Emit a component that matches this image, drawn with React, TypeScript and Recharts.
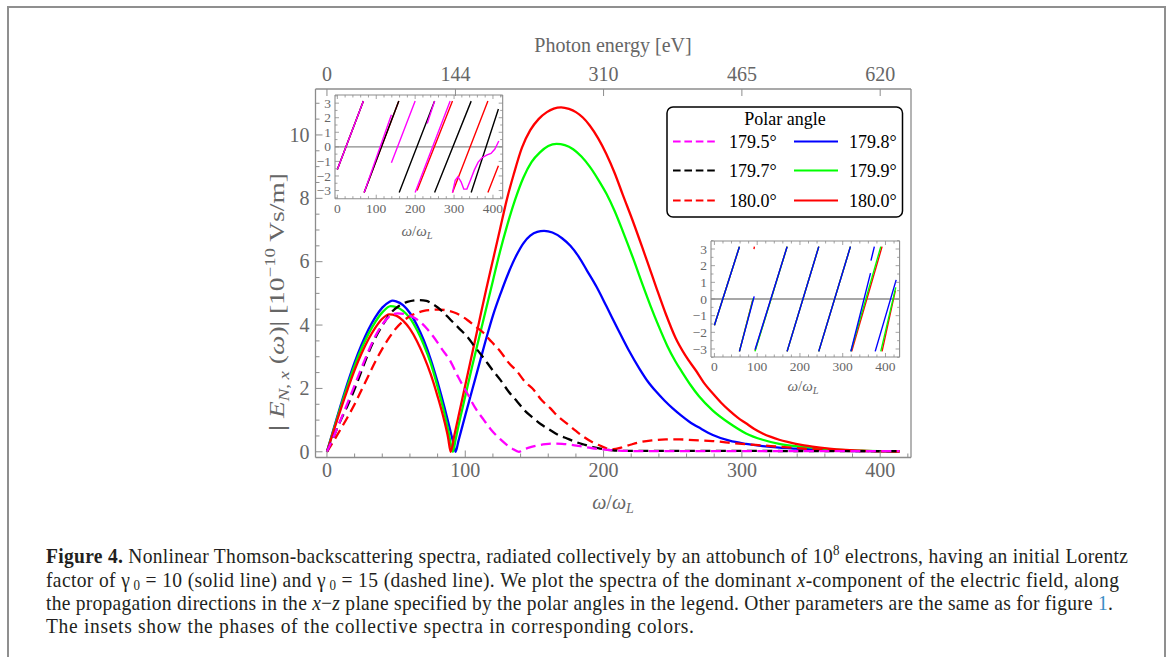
import React from 'react';
import { LineChart, Line, XAxis, YAxis, ReferenceLine, Legend } from 'recharts';

const SERIF = '"Liberation Serif", "Times New Roman", Times, serif';
const FRAME = '#8c8c8c';
const TXT_GRAY = '#666666';

// ---------------- main spectra |E_N,x(w)| (1e-10 Vs/m) ----------------
// solid (gamma0 = 10)
const wBlue = [0,5,10,15,20,25,30,35,40,45,47.5,50,55,60,65,70,75,80,85,89,91,93,95,97,100,105,110,115,120,126,131,137,142,147,152,157,163,170,176,182,188,195,202,210,218,226,232,238,244,250,256,262,270,279,291,303,315,327,339,357,375,395,414];
const eBlue = [0,0.75,1.48,2.18,2.82,3.38,3.86,4.25,4.55,4.73,4.77,4.75,4.63,4.38,4.0,3.52,2.92,2.2,1.4,0.7,0.35,0,0.33,0.66,1.15,1.95,2.75,3.55,4.3,5.05,5.62,6.2,6.58,6.82,6.94,6.97,6.92,6.74,6.5,6.16,5.72,5.2,4.6,3.9,3.22,2.62,2.22,1.9,1.62,1.37,1.15,0.95,0.74,0.53,0.35,0.25,0.18,0.13,0.1,0.06,0.03,0.02,0.01];

const wGreen = [0,5,10,15,20,25,30,35,40,46,50,55,60,65,70,75,80,85,88,91,93,95,100,105,110,115,120,125,130,136,142,148,154,160,166,172,178,184,190,196,202,208,214,221,228,234,240,246,252,257,263,269,279,291,303,315,327,339,351,363,375,390,414];
const eGreen = [0,0.72,1.43,2.1,2.72,3.26,3.72,4.1,4.4,4.6,4.57,4.45,4.22,3.85,3.38,2.8,2.05,1.2,0.62,0,0.38,0.8,1.75,2.7,3.6,4.5,5.4,6.3,7.1,7.95,8.65,9.15,9.45,9.65,9.72,9.68,9.55,9.32,9.0,8.6,8.15,7.6,6.95,6.15,5.3,4.6,3.95,3.35,2.85,2.5,2.1,1.75,1.3,0.9,0.58,0.38,0.25,0.18,0.13,0.08,0.05,0.03,0.01];

const wRedSolid = [0,5,10,15,20,25,30,35,40,45,50,55,60,65,70,75,80,85,87.5,89.5,92,95,100,105,110,115,120,125,130,135,141,147,153,159,164,169.3,175,180,185,190,196,202,208,214,221,228,234,238,245,252,259,267,273,279,285,291,297,303,309,315,321,327,333,339,345,351,363,375,390,414];
const eRedSolid = [0,0.68,1.35,1.98,2.58,3.1,3.55,3.92,4.2,4.34,4.3,4.14,3.88,3.5,3.02,2.45,1.75,0.95,0.47,0,0.5,1.1,2.1,3.1,4.1,5.1,6.05,7.0,7.95,8.75,9.6,10.15,10.5,10.72,10.83,10.87,10.82,10.72,10.55,10.3,9.9,9.4,8.8,8.1,7.3,6.45,5.7,5.2,4.35,3.6,3.05,2.55,2.15,1.84,1.55,1.3,1.08,0.9,0.72,0.58,0.47,0.38,0.31,0.25,0.2,0.16,0.1,0.06,0.03,0.01];

// dashed (gamma0 = 15)
const wMagenta = [0,5,10,15,20,25,30,35,40,46,51,56,61,66,72,77,83,89.5,95,101.5,107,113.5,119,125.5,130,134,138.8,142,146,152,158,164,170,177,184,191,198,205,215,230,260,300,350,414];
const eMagenta = [0,0.5,1.02,1.55,2.1,2.65,3.18,3.65,4.02,4.3,4.37,4.35,4.28,4.15,3.9,3.63,3.25,2.84,2.35,1.84,1.4,1.0,0.68,0.39,0.22,0.1,0,0.07,0.13,0.2,0.24,0.26,0.25,0.22,0.17,0.12,0.08,0.05,0.03,0.02,0.02,0.02,0.02,0.02];

const wBlack = [0,5,10,15,20,25,30,35,40,46,52,58,66.6,72,77,83,89.5,95,101.5,107,113.5,119,125.5,131,137.6,143,149.6,155,161.6,167,173.6,180,185.7,192,197.7,203,208,215,230,260,300,350,414];
const eBlack = [0,0.5,1.0,1.47,1.98,2.55,3.12,3.6,3.98,4.37,4.6,4.73,4.79,4.76,4.65,4.45,4.16,3.92,3.63,3.31,2.95,2.62,2.26,1.92,1.58,1.3,1.05,0.86,0.68,0.54,0.42,0.31,0.23,0.15,0.1,0.06,0.04,0.03,0.03,0.03,0.03,0.02,0.02];

const wRedDashed = [0,5,10,15,20,25,30,35,40,45,50,55,60,65,70,76,81,87,93,101.5,107,113.5,119,125.5,131,137.6,143,149.6,155,161.6,167,173.6,180,185.7,192,197.7,202,205.5,209,214,220,227,235,245,255,265,278.7,290,302.8,315,326.8,339,351,363,375,395,414];
const eRedDashed = [0,0.35,0.72,1.1,1.5,1.95,2.4,2.85,3.25,3.6,3.9,4.12,4.28,4.38,4.45,4.48,4.49,4.46,4.38,4.16,3.97,3.74,3.47,3.16,2.83,2.53,2.22,1.95,1.64,1.37,1.12,0.89,0.66,0.47,0.3,0.19,0.11,0.07,0.09,0.15,0.23,0.31,0.36,0.39,0.39,0.37,0.34,0.29,0.24,0.2,0.16,0.12,0.08,0.05,0.03,0.02,0.02];

// ---------------- phases (insets), segments of [w, phase] ----------------
const phaseMagenta15 = [
  [[0,-1.55],[67,3.14]],
  [[69,-3.14],[139,2.2]],
  [[139,-1.1],[200,3.14]],
  [[200,-3.14],[290,3.14]],
  [[231,1.6],[250,3.14]],
  [[296,-3.14],[303,-2.3],[310,-2.05],[318,-2.4],[325,-2.9],[333,-2.9],[342,-2.3],[352,-1.6],[362,-1.05],[372,-0.75],[385,-0.55],[395,-0.45],[405,-0.15],[415,0.4]],
];
const phaseBlack15 = [
  [[0,-1.55],[67,3.14]],
  [[69,-3.14],[158,3.14]],
  [[159,-3.14],[250,3.14]],
  [[250,-3.14],[344,3.14]],
  [[344,-3.14],[414,2.6]],
];
const phaseRed15 = [
  [[0,-1.55],[67,3.14]],
  [[69,-3.14],[158,3.14]],
  [[205,-3.0],[296,3.14]],
  [[296,-3.14],[387,3.14]],
  [[387,-3.14],[414,-1.3]],
];
const phaseBlue10 = [
  [[0,-1.58],[58.5,3.14]],
  [[58.5,-3.14],[93,0.16]],
  [[95,-3.04],[170,3.14]],
  [[170,-3.14],[244,3.14]],
  [[244,-3.14],[318,3.14]],
  [[319,-3.14],[365,1.55]],
  [[366,2.3],[374,3.14]],
  [[376,-3.14],[425,1.15]],
];
const phaseGreen10 = [
  [[0,-1.58],[58.5,3.14]],
  [[58.5,-3.14],[91,0.05]],
  [[95,-3.14],[170,3.14]],
  [[170,-3.14],[244,3.14]],
  [[244,-3.14],[318,3.14]],
  [[319,-3.14],[389,3.14]],
  [[389,-3.14],[424,0.7]],
];
const phaseRed10 = [
  [[0,-1.58],[58.5,3.14]],
  [[58.5,-3.14],[89.5,-0.05]],
  [[92.5,3.0],[93.5,3.14]],
  [[95,-3.1],[170,3.14]],
  [[170,-3.14],[244,3.14]],
  [[244,-3.14],[318,3.14]],
  [[321,-3.14],[392,3.14]],
  [[392,-3.14],[423,0.5]],
];

// ---------------- ticks / labels ----------------
const mainYTicks = [0,0.5,1,1.5,2,2.5,3,3.5,4,4.5,5,5.5,6,6.5,7,7.5,8,8.5,9,9.5,10,10.5,11];
const mainYMajor = [0,2,4,6,8,10];
const mainXTicks = [0,20,40,60,80,100,120,140,160,180,200,220,240,260,280,300,320,340,360,380,400,420];
const mainXMajor = [0,100,200,300,400];
const photonTickLabels = ['0','144','310','465','620'];
const photonTickOmega = [0,92.9,200,300,400];
const insetYTicks = [-3.5,-3,-2.5,-2,-1.5,-1,-0.5,0,0.5,1,1.5,2,2.5,3,3.5];
const insetYMajor = [-3,-2,-1,0,1,2,3];
const insetXTicks = mainXTicks;
const insetXMajor = mainXMajor;

const dashedSeries = [
  { name: '179.5°', color: '#ff00ff', w: wMagenta, e: eMagenta },
  { name: '179.7°', color: '#000000', w: wBlack, e: eBlack },
  { name: '180.0°', color: '#ff0000', w: wRedDashed, e: eRedDashed },
];
const solidSeries = [
  { name: '179.8°', color: '#0000ff', w: wBlue, e: eBlue },
  { name: '179.9°', color: '#00ff00', w: wGreen, e: eGreen },
  { name: '180.0°', color: '#ff0000', w: wRedSolid, e: eRedSolid },
];

const toPts = (ws: number[], es: number[]) => ws.map((w, i) => ({ w, v: es[i] }));
const segPts = (segs: number[][][]) => {
  const out: { w: number; p: number | null }[] = [];
  segs.forEach((s) => {
    s.forEach(([w, p]) => out.push({ w, p }));
    out.push({ w: s[s.length - 1][0] + 0.01, p: null });
  });
  return out;
};

const isIn = (arr: number[], v: number) => arr.some((m) => Math.abs(m - v) < 1e-6);

type Side = 'left' | 'right' | 'top' | 'bottom';
function makeTick(side: Side, o: { majors: number[]; label?: (v: number) => string | null; majorLen: number; minorLen: number; fontSize: number; gap: number; color: string; lineColor: string; lw: number }) {
  return (props: any) => {
    const { x, y, payload } = props;
    const v = payload.value as number;
    const major = isIn(o.majors, v);
    const len = major ? o.majorLen : o.minorLen;
    const lab = major && o.label ? o.label(v) : null;
    let x2 = x, y2 = y, tx = x, ty = y, anchor: any = 'middle';
    if (side === 'left') { x2 = x + len; tx = x - o.gap; ty = y + o.fontSize * 0.34; anchor = 'end'; }
    if (side === 'right') { x2 = x - len; }
    if (side === 'bottom') { y2 = y - len; ty = y + o.gap + o.fontSize * 0.68; }
    if (side === 'top') { y2 = y + len; ty = y - o.gap; }
    return (
      <g>
        <line x1={x} y1={y} x2={x2} y2={y2} stroke={o.lineColor} strokeWidth={o.lw} />
        {lab != null && (
          <text x={tx} y={ty} textAnchor={anchor} fontFamily={SERIF} fontSize={o.fontSize} fill={o.color}>{lab}</text>
        )}
      </g>
    );
  };
}

// ---------------- layout ----------------
const PAGE_W = 1171, PAGE_H = 657;
const PLOT = { left: 315.5, top: 89, right: 911, bottom: 457.5 };
const X_DOMAIN = [-8.28, 422.28];
const Y_DOMAIN = [-0.18, 11.45];
const AX_H = 30, AX_W = 60, AX_WR = 10;

const fmtNum = (v: number) => String(Math.round(v));
const fmtMinus = (v: number) => (v < 0 ? '\u2212' + Math.abs(Math.round(v)) : String(Math.round(v)));

function MainChart() {
  const axisLine = { stroke: FRAME, strokeWidth: 1.3 };
  const common = { majorLen: 7, minorLen: 4, fontSize: 20, color: TXT_GRAY, lineColor: FRAME, lw: 1 };
  return (
    <div style={{ position: 'absolute', left: 0, top: 0 }}>
      <LineChart width={PAGE_W} height={PAGE_H}
        margin={{ top: PLOT.top - AX_H, left: PLOT.left - AX_W, right: PAGE_W - PLOT.right - AX_WR, bottom: PAGE_H - PLOT.bottom - AX_H }}>
        <XAxis xAxisId="b" orientation="bottom" type="number" dataKey="w" domain={X_DOMAIN} allowDataOverflow
          ticks={mainXTicks} interval={0} height={AX_H} tickSize={0} tickMargin={0} tickLine={false} axisLine={axisLine}
          tick={makeTick('bottom', { ...common, majors: mainXMajor, label: fmtNum, gap: 6 })} />
        <XAxis xAxisId="t" orientation="top" type="number" dataKey="w" domain={X_DOMAIN} allowDataOverflow
          ticks={photonTickOmega} interval={0} height={AX_H} tickSize={0} tickMargin={0} tickLine={false} axisLine={axisLine}
          tick={makeTick('top', { ...common, majors: photonTickOmega, label: (v) => photonTickLabels[photonTickOmega.indexOf(v)] ?? null, gap: 8 })} />
        <YAxis yAxisId="l" orientation="left" type="number" domain={Y_DOMAIN} allowDataOverflow
          ticks={mainYTicks} interval={0} width={AX_W} tickSize={0} tickMargin={0} tickLine={false} axisLine={axisLine}
          tick={makeTick('left', { ...common, majors: mainYMajor, label: fmtNum, gap: 6 })} />
        <YAxis yAxisId="r" orientation="right" type="number" domain={Y_DOMAIN} allowDataOverflow
          width={AX_WR} tickSize={0} tickLine={false} axisLine={axisLine} tick={false} />
        {solidSeries.map((s) => (
          <Line key={'s' + s.color} xAxisId="b" yAxisId="l" data={toPts(s.w, s.e)} dataKey="v" type="monotone"
            stroke={s.color} strokeWidth={2.3} dot={false} isAnimationActive={false} />
        ))}
        {dashedSeries.slice().reverse().map((s) => (
          <Line key={'d' + s.color} xAxisId="b" yAxisId="l" data={toPts(s.w, s.e)} dataKey="v" type="monotone"
            stroke={s.color} strokeWidth={2.3} strokeDasharray="10 5.5" dot={false} isAnimationActive={false} />
        ))}
        <Legend layout="horizontal" verticalAlign="middle" align="center"
          wrapperStyle={{ position: 'absolute', left: 666, top: 105.5, width: 238, height: 112, right: 'auto', bottom: 'auto' }}
          content={() => <LegendBox />} />
      </LineChart>
    </div>
  );
}

function LegendBox() {
  const rows = [0, 1, 2];
  const rowY = [34.5, 63.5, 93.5];
  return (
    <svg width={238} height={112} style={{ display: 'block' }}>
      <rect x={1} y={1} width={235.5} height={110} rx={6} ry={6} fill="#ffffff" stroke="#000000" strokeWidth={1.5} />
      <text x={119} y={19} textAnchor="middle" fontFamily={SERIF} fontSize={18} fill="#000">Polar angle</text>
      {rows.map((i) => (
        <g key={i}>
          <line x1={7} x2={49} y1={rowY[i] + 1} y2={rowY[i] + 1} stroke={dashedSeries[i].color} strokeWidth={2.2} strokeDasharray="7.6 3.8" />
          <text x={63} y={rowY[i] + 7} fontFamily={SERIF} fontSize={18} fill="#000">{dashedSeries[i].name}</text>
          <line x1={128} x2={172} y1={rowY[i] + 1} y2={rowY[i] + 1} stroke={solidSeries[i].color} strokeWidth={2.2} />
          <text x={183} y={rowY[i] + 7} fontFamily={SERIF} fontSize={18} fill="#000">{solidSeries[i].name}</text>
        </g>
      ))}
    </svg>
  );
}

function PhaseInset({ box, xDomain, yDomain, series }: { box: { x: number; y: number; w: number; h: number }; xDomain: number[]; yDomain: number[]; series: { color: string; segs: number[][][] }[] }) {
  const padL = 40, padT = 14, padR = 14, padB = 30;
  const axL = 30, axT = 10, axR = 10, axB = 24;
  const axisLine = { stroke: FRAME, strokeWidth: 1.1 };
  const common = { majorLen: 4, minorLen: 2.5, fontSize: 13.5, color: TXT_GRAY, lineColor: FRAME, lw: 0.8 };
  return (
    <div style={{ position: 'absolute', left: box.x - padL, top: box.y - padT }}>
      <LineChart width={box.w + padL + padR} height={box.h + padT + padB}
        margin={{ top: padT - axT, left: padL - axL, right: padR - axR, bottom: padB - axB }}>
        <XAxis xAxisId="b" orientation="bottom" type="number" dataKey="w" domain={xDomain} allowDataOverflow
          ticks={insetXTicks} interval={0} height={axB} tickSize={0} tickMargin={0} tickLine={false} axisLine={axisLine}
          tick={makeTick('bottom', { ...common, majors: insetXMajor, label: fmtNum, gap: 5 })} />
        <XAxis xAxisId="t" orientation="top" type="number" dataKey="w" domain={xDomain} allowDataOverflow
          ticks={insetXTicks} interval={0} height={axT} tickSize={0} tickMargin={0} tickLine={false} axisLine={axisLine}
          tick={makeTick('top', { ...common, majors: insetXMajor, gap: 4 })} />
        <YAxis yAxisId="l" orientation="left" type="number" domain={yDomain} allowDataOverflow
          ticks={insetYTicks} interval={0} width={axL} tickSize={0} tickMargin={0} tickLine={false} axisLine={axisLine}
          tick={makeTick('left', { ...common, majors: insetYMajor, label: fmtMinus, gap: 4 })} />
        <YAxis yAxisId="r" orientation="right" type="number" domain={yDomain} allowDataOverflow
          ticks={insetYTicks} interval={0} width={axR} tickSize={0} tickMargin={0} tickLine={false} axisLine={axisLine}
          tick={makeTick('right', { ...common, majors: insetYMajor })} />
        <ReferenceLine xAxisId="b" yAxisId="l" y={0} stroke="#8a8a8a" strokeWidth={1.3} />
        {series.map((s) => (
          <Line key={s.color} xAxisId="b" yAxisId="l" data={segPts(s.segs)} dataKey="p" type="linear"
            stroke={s.color} strokeWidth={1.4} dot={false} connectNulls={false} isAnimationActive={false} />
        ))}
      </LineChart>
    </div>
  );
}

const CAP_SCALE = 0.93;
function CaptionLine({ y, target, children }: { y: number; target?: number; children: React.ReactNode }) {
  const extra = target ? { textLength: target / CAP_SCALE, lengthAdjust: 'spacing' as const } : {};
  return (
    <g transform={`translate(46 ${y}) scale(${CAP_SCALE} 1)`}>
      <text x={0} y={0} fontFamily={SERIF} fontSize={21} fill="#231f20" {...extra}>{children}</text>
    </g>
  );
}

function Overlay() {
  return (
    <svg width={PAGE_W} height={PAGE_H} style={{ position: 'absolute', left: 0, top: 0, pointerEvents: 'none' }}>
      <text x={613} y={52} textAnchor="middle" fontFamily={SERIF} fontSize={20} fill={TXT_GRAY}>Photon energy [eV]</text>
      <text x={284} y={302} transform="rotate(-90 284 302)" textAnchor="middle" textLength={258} lengthAdjust="spacingAndGlyphs" fontFamily={SERIF} fontSize={22} fill={TXT_GRAY}>
        <tspan fontWeight="bold">|</tspan><tspan> </tspan><tspan fontStyle="italic">E</tspan>
        <tspan fontSize={15} dy={5} fontStyle="italic">N</tspan><tspan fontSize={15}>, </tspan><tspan fontSize={15} fontStyle="italic">x</tspan>
        <tspan dy={-5}> (</tspan><tspan fontStyle="italic">ω</tspan><tspan>)| [10</tspan>
        <tspan fontSize={15} dy={-9}>−10</tspan><tspan dy={9}> Vs/m]</tspan>
      </text>
      <text x={613} y={509} textAnchor="middle" fontFamily={SERIF} fontSize={20} fill={TXT_GRAY}>
        <tspan fontStyle="italic">ω</tspan><tspan>/</tspan><tspan fontStyle="italic">ω</tspan><tspan fontSize={14} dy={4} fontStyle="italic">L</tspan>
      </text>
      <text x={417} y={236} textAnchor="middle" fontFamily={SERIF} fontSize={15} fill={TXT_GRAY}>
        <tspan fontStyle="italic">ω</tspan><tspan>/</tspan><tspan fontStyle="italic">ω</tspan><tspan fontSize={10.5} dy={3} fontStyle="italic">L</tspan>
      </text>
      <text x={803} y={391} textAnchor="middle" fontFamily={SERIF} fontSize={15} fill={TXT_GRAY}>
        <tspan fontStyle="italic">ω</tspan><tspan>/</tspan><tspan fontStyle="italic">ω</tspan><tspan fontSize={10.5} dy={3} fontStyle="italic">L</tspan>
      </text>

      <CaptionLine y={563} target={1082}>
        <tspan fontWeight="bold">Figure 4.</tspan> Nonlinear Thomson-backscattering spectra, radiated collectively by an attobunch of 10<tspan fontSize={14} dy={-8}>8</tspan><tspan dy={8}> electrons, having an initial Lorentz</tspan>
      </CaptionLine>
      <CaptionLine y={586.5} target={1073}>
        factor of γ<tspan fontSize={14} dx={3.5} dy={3}>0</tspan><tspan dy={-3}> = 10 (solid line) and γ</tspan><tspan fontSize={14} dx={3.5} dy={3}>0</tspan><tspan dy={-3}> = 15 (dashed line). We plot the spectra of the dominant </tspan><tspan fontStyle="italic">x</tspan>-component of the electric field, along
      </CaptionLine>
      <CaptionLine y={609.5} target={1067}>
        the propagation directions in the <tspan fontStyle="italic">x</tspan>−<tspan fontStyle="italic">z</tspan> plane specified by the polar angles in the legend. Other parameters are the same as for figure <tspan fill="#3a8cc4">1</tspan>.
      </CaptionLine>
      <CaptionLine y={632.5} target={648}>
        The insets show the phases of the collective spectra in corresponding colors.
      </CaptionLine>
    </svg>
  );
}

export default function App() {
  return (
    <div style={{ position: 'absolute', left: 0, top: 0, width: PAGE_W, height: PAGE_H, overflow: 'hidden', background: '#fff' }}>
      <div style={{ position: 'absolute', left: 7, top: 6, width: 1159, height: 720, border: '2px solid #8f8f8f', boxSizing: 'border-box' }} />
      <MainChart />
      <PhaseInset box={{ x: 335, y: 95.3, w: 167.7, h: 103.7 }} xDomain={[-6, 425]} yDomain={[-3.56, 3.56]}
        series={[
          { color: '#ff0000', segs: phaseRed15 },
          { color: '#000000', segs: phaseBlack15 },
          { color: '#ff00ff', segs: phaseMagenta15 },
        ]} />
      <PhaseInset box={{ x: 710.7, y: 240.7, w: 188.6, h: 116 }} xDomain={[-8, 433]} yDomain={[-3.48, 3.48]}
        series={[
          { color: '#ff0000', segs: phaseRed10 },
          { color: '#00ff00', segs: phaseGreen10 },
          { color: '#0000ff', segs: phaseBlue10 },
        ]} />
      <Overlay />
    </div>
  );
}
